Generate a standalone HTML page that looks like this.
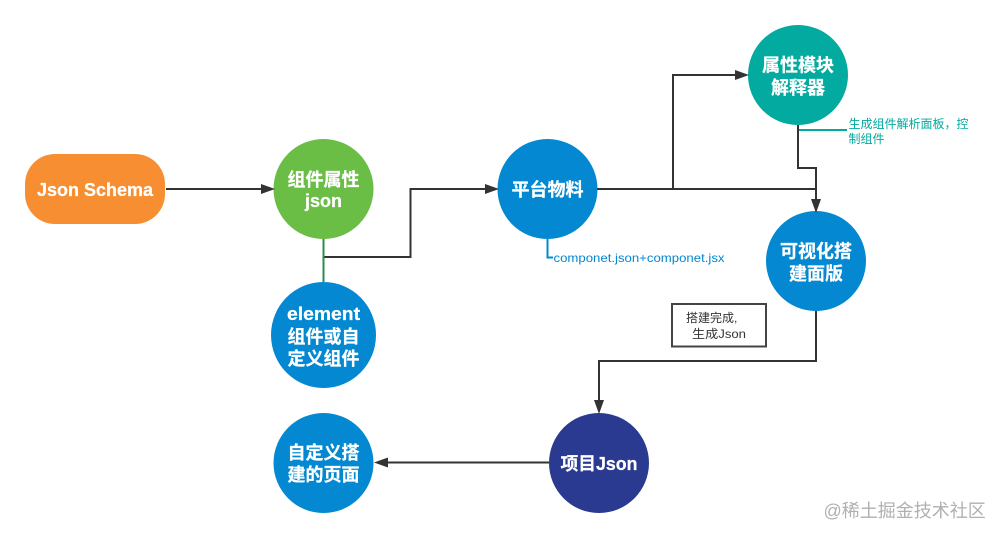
<!DOCTYPE html>
<html><head><meta charset="utf-8">
<style>
html,body{margin:0;padding:0;background:#fff;width:1002px;height:538px;overflow:hidden}
svg{display:block}
text{font-family:"Liberation Sans","Noto Sans CJK SC",sans-serif}
.w{fill:#fff;font-weight:bold;font-size:18px;text-anchor:middle;stroke:#fff;stroke-width:.25px}
</style></head><body>
<svg width="1002" height="538" viewBox="0 0 1002 538" xmlns="http://www.w3.org/2000/svg">
<rect x="25" y="154" width="140" height="70" rx="30" ry="30" fill="#f78e32"/>
<circle cx="323.500" cy="189" r="50" fill="#6abd45"/>
<ellipse cx="323.500" cy="335" rx="52.500" ry="53" fill="#0388d1"/>
<ellipse cx="323.500" cy="463" rx="50" ry="50" fill="#0388d1"/>
<circle cx="547.500" cy="189" r="50" fill="#0388d1"/>
<circle cx="798" cy="75" r="50" fill="#02aa9f"/>
<circle cx="816" cy="261" r="50" fill="#0388d1"/>
<circle cx="599" cy="463" r="50" fill="#293a90"/>

<g fill="none" stroke="#333" stroke-width="2">
<path d="M166 189H262"/>
<path d="M323.500 257H410.500V189H488"/>
<path d="M597 189H816"/>
<path d="M673 189V75H738"/>
<path d="M798 125V168H816V202"/>
<path d="M816 311V361H599V402"/>
<path d="M549 462.500H385"/>
</g>
<path d="M323.500 239V282" stroke="#2e8b4a" stroke-width="2" fill="none"/>
<path d="M547.500 239V257.500H553" stroke="#0388d1" stroke-width="2" fill="none"/>
<path d="M799 130H847" stroke="#02aa9f" stroke-width="2" fill="none"/>

<g fill="#333">
<polygon points="261,184 261,194 275,189"/>
<polygon points="485,184 485,194 499,189"/>
<polygon points="735,70 735,80 749,75"/>
<polygon points="811,199 821,199 816,213"/>
<polygon points="594,400 604,400 599,414"/>
<polygon points="388,457.500 388,467.500 374,462.500"/>
</g>

<rect x="672" y="304" width="94" height="42.500" fill="#fff" stroke="#444" stroke-width="2"/>

<text class="w" x="95" y="196" textLength="116" lengthAdjust="spacingAndGlyphs">Json Schema</text>
<text class="w" x="323.500" y="186">组件属性</text>
<text class="w" x="323.500" y="207">json</text>
<text class="w" x="323.500" y="320" textLength="73" lengthAdjust="spacingAndGlyphs">element</text>
<text class="w" x="323.500" y="343">组件或自</text>
<text class="w" x="323.500" y="365">定义组件</text>
<text class="w" x="547.500" y="196">平台物料</text>
<text class="w" x="798" y="71.500">属性模块</text>
<text class="w" x="798" y="94">解释器</text>
<text class="w" x="816" y="257.500">可视化搭</text>
<text class="w" x="816" y="280">建面版</text>
<text class="w" x="599" y="470" textLength="77" lengthAdjust="spacingAndGlyphs">项目Json</text>
<text class="w" x="323.500" y="459">自定义搭</text>
<text class="w" x="323.500" y="481">建的页面</text>

<text x="553.500" y="262" font-size="12" fill="#0388d1" textLength="171" lengthAdjust="spacingAndGlyphs">componet.json+componet.jsx</text>
<text x="848.500" y="128" font-size="12" fill="#02aa9f">生成组件解析面板，控</text>
<text x="848.500" y="143" font-size="12" fill="#02aa9f">制组件</text>
<text x="686" y="322" font-size="12" fill="#333">搭建完成,</text>
<text x="692" y="338" font-size="12" fill="#333" textLength="54" lengthAdjust="spacingAndGlyphs">生成Json</text>
<text x="823.500" y="517" font-size="18" fill="#b0b0b0">@稀土掘金技术社区</text>
</svg>
</body></html>
